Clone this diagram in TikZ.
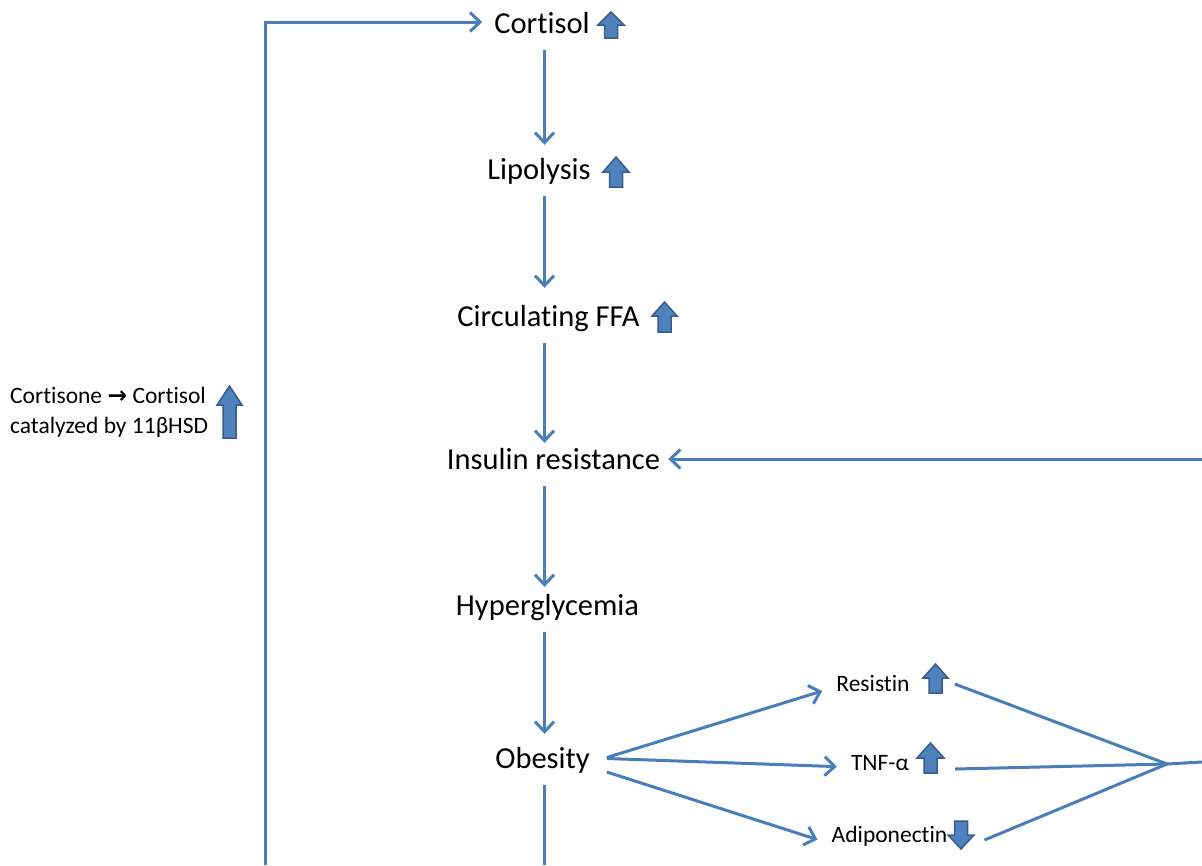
\documentclass[tikz,border=0pt]{standalone}
\usepackage{fontspec}
\setmainfont{Carlito}[Ligatures=NoCommon]
\newfontfamily\symfont{DejaVu Sans Bold}
\usetikzlibrary{arrows.meta}
\definecolor{lineblue}{HTML}{4A7EBB}
\definecolor{blkfill}{HTML}{4F81BD}
\definecolor{blkedge}{HTML}{385D8A}
\begin{document}
\begin{tikzpicture}[x=1pt,y=-1pt,
  ln/.style={draw=lineblue, line width=3pt},
  arr/.style={ln, -{Straight Barb[length=10pt,width=19pt]}},
  big/.style={font=\fontsize{30.5}{36}\selectfont, anchor=base, inner xsep=8pt, inner ysep=10pt, text height=24pt, text depth=7pt},
  small/.style={font=\fontsize{23.5}{28}\selectfont, anchor=base, inner xsep=14pt, inner ysep=3pt, text height=18pt, text depth=5pt},
  blk/.style={fill=blkfill, draw=blkedge, line width=1.5pt, line join=miter},
  pics/blockup/.style n args={3}{code={
    \draw[blk] (-6.5,{#1/2}) -- (-6.5,{-#1/2+#2}) -- ({-#3/2},{-#1/2+#2}) -- (0,{-#1/2})
      -- ({#3/2},{-#1/2+#2}) -- (6.5,{-#1/2+#2}) -- (6.5,{#1/2}) -- cycle;}},
  pics/blockdown/.style n args={3}{code={
    \draw[blk] (-6.5,{-#1/2}) -- (-6.5,{#1/2-#2}) -- ({-#3/2},{#1/2-#2}) -- (0,{#1/2})
      -- ({#3/2},{#1/2-#2}) -- (6.5,{#1/2-#2}) -- (6.5,{-#1/2}) -- cycle;}}
]
\useasboundingbox (0,0) rectangle (1202,865);

% main chain
\node[big] (cortisol)  at (542,33)    {Cortisol};
\node[big] (lipolysis) at (539,179)   {Lipolysis};
\node[big] (ffa)       at (548.5,326) {Circulating FFA};
\node[big] (insulin)   at (553.5,469) {Insulin resistance};
\node[big] (hyper)     at (547.5,615) {Hyperglycemia};
\node[big] (obesity)   at (542.5,768) {Obesity};

% adipokines
\node[small] (resistin) at (873,691)   {Resistin};
\node[small] (tnf)      at (880,770)   {TNF-α};
\node[small] (adipo)    at (889.5,842) {Adiponectin};

% left label
\node[small, anchor=base west, inner xsep=0pt] (cort1) at (10,403) {Cortisone {\symfont →} Cortisol};
\node[small, anchor=base west, inner xsep=0pt] (cort2) at (10,433) {catalyzed by 11βHSD};

% block arrows
\pic at (611,25)    {blockup={26}{13}{26}};
\pic at (616,172)   {blockup={30}{15}{26}};
\pic at (664.5,317) {blockup={30}{14}{25}};
\pic at (935.5,678.5) {blockup={29}{14}{25}};
\pic at (930.5,758) {blockup={30}{15}{27}};
\pic at (961,835)   {blockdown={28}{14}{26}};
\pic at (229.5,412) {blockup={52}{19}{25}};

% spine
\coordinate (spine) at (544.5,0);
\coordinate (obBottom) at (544.5,865);
\draw[arr] (cortisol.south -| spine) -- (lipolysis.north -| spine);
\draw[arr, shorten >=4pt] (lipolysis.south -| spine) -- (ffa.north -| spine);
\draw[arr, shorten >=-8pt] (ffa.south -| spine) -- (insulin.north -| spine);
\draw[arr, shorten >=-6pt] (insulin.south -| spine) -- (hyper.north -| spine);
\draw[arr] (hyper.south -| spine) -- (obesity.north -| spine);
\draw[ln] (obesity.south -| spine) -- (obBottom);

% feedback loop on the left
\coordinate (loopBottom) at (265,865);
\draw[arr, shorten >=4pt] (loopBottom) |- ([yshift=2.5pt]cortisol.west);

% line into insulin resistance from the right
\coordinate (irRight) at (1202,459);
\draw[arr] (irRight) -- (insulin.east |- irRight);

% obesity fan
\draw[arr] ([xshift=9pt,yshift=2pt]obesity.east) -- (resistin.base west);
\draw[arr] ([xshift=9pt,yshift=1pt]obesity.east) -- ([yshift=1pt]tnf.mid west);
\draw[arr] ([xshift=9pt,yshift=-12.5pt]obesity.east) -- (adipo.mid west);

% convergence
\coordinate (junc) at (1167,764);
\coordinate (jRight) at (1202,762);
\draw[ln] ([xshift=31pt,yshift=7pt]resistin.base east) -- (junc);
\draw[ln] ([xshift=32pt,yshift=1pt]tnf.base east) -- (junc);
\draw[ln] ([xshift=23pt,yshift=2pt]adipo.base east) -- (junc);
\draw[ln] (junc) -- (jRight);
\end{tikzpicture}
\end{document}
